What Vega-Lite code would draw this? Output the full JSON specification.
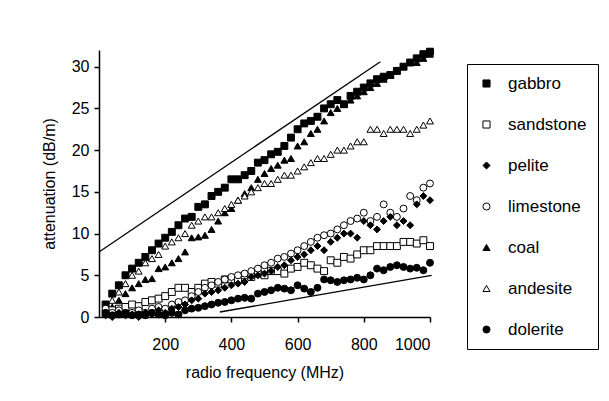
{
"$schema": "https://vega.github.io/schema/vega-lite/v6.json",
"width": 331, "height": 267,
"autosize": {"type": "none"},
"padding": {"left": 99, "top": 50, "right": 179, "bottom": 84},
"background": "white",
"config": {
  "view": {"stroke": null},
  "font": "Liberation Sans",
  "axis": {"grid": false, "domainColor": "black", "domainWidth": 1.5, "tickColor": "black", "tickWidth": 1.5, "tickSize": 5, "labelColor": "black", "titleColor": "black", "labelFontSize": 16, "titleFontSize": 16, "labelFontWeight": "normal", "titleFontWeight": "normal"},
  "legend": {"orient": "none", "legendX": 368, "legendY": 14, "strokeColor": "black", "fillColor": "white", "padding": 11, "rowPadding": 23, "labelFontSize": 17, "labelColor": "black", "labelOffset": 13, "symbolSize": 50, "symbolStrokeWidth": 1}
},
"datasets": {
"lines": [{"x1": 0, "y1": 7.8, "x2": 850, "y2": 30.6}, {"x1": 365, "y1": 0.6, "x2": 1005, "y2": 5.0}],
"pts": [
{"f":20,"r":"gabbro","a":1.5},{"f":40,"r":"gabbro","a":2.8},{"f":60,"r":"gabbro","a":3.8},{"f":80,"r":"gabbro","a":5.0},{"f":100,"r":"gabbro","a":5.8},{"f":120,"r":"gabbro","a":6.5},{"f":140,"r":"gabbro","a":7.2},{"f":160,"r":"gabbro","a":8.0},{"f":180,"r":"gabbro","a":8.8},{"f":200,"r":"gabbro","a":9.5},
{"f":220,"r":"gabbro","a":10.2},{"f":240,"r":"gabbro","a":11.0},{"f":260,"r":"gabbro","a":11.8},{"f":280,"r":"gabbro","a":12.0},{"f":300,"r":"gabbro","a":13.2},{"f":320,"r":"gabbro","a":13.5},{"f":340,"r":"gabbro","a":14.5},{"f":360,"r":"gabbro","a":15.0},{"f":380,"r":"gabbro","a":15.5},{"f":400,"r":"gabbro","a":16.5},
{"f":420,"r":"gabbro","a":16.5},{"f":440,"r":"gabbro","a":17.0},{"f":460,"r":"gabbro","a":17.5},{"f":480,"r":"gabbro","a":18.5},{"f":500,"r":"gabbro","a":18.8},{"f":520,"r":"gabbro","a":19.5},{"f":540,"r":"gabbro","a":19.8},{"f":560,"r":"gabbro","a":20.5},{"f":580,"r":"gabbro","a":21.5},{"f":600,"r":"gabbro","a":22.5},
{"f":620,"r":"gabbro","a":23.2},{"f":640,"r":"gabbro","a":23.5},{"f":660,"r":"gabbro","a":24.0},{"f":680,"r":"gabbro","a":25.0},{"f":700,"r":"gabbro","a":25.5},{"f":720,"r":"gabbro","a":26.0},{"f":740,"r":"gabbro","a":25.5},{"f":760,"r":"gabbro","a":26.5},{"f":780,"r":"gabbro","a":27.0},{"f":800,"r":"gabbro","a":27.5},
{"f":820,"r":"gabbro","a":28.0},{"f":840,"r":"gabbro","a":28.5},{"f":860,"r":"gabbro","a":28.8},{"f":880,"r":"gabbro","a":29.0},{"f":900,"r":"gabbro","a":29.5},{"f":920,"r":"gabbro","a":30.0},{"f":940,"r":"gabbro","a":30.5},{"f":960,"r":"gabbro","a":31.0},{"f":980,"r":"gabbro","a":31.5},{"f":1000,"r":"gabbro","a":31.8},
{"f":20,"r":"coal","a":0.5},{"f":40,"r":"coal","a":1.2},{"f":60,"r":"coal","a":2.0},{"f":80,"r":"coal","a":2.8},{"f":100,"r":"coal","a":3.5},{"f":120,"r":"coal","a":4.0},{"f":140,"r":"coal","a":4.5},{"f":160,"r":"coal","a":4.6},{"f":180,"r":"coal","a":5.8},{"f":200,"r":"coal","a":6.0},
{"f":220,"r":"coal","a":6.5},{"f":240,"r":"coal","a":7.0},{"f":260,"r":"coal","a":7.8},{"f":280,"r":"coal","a":9.5},{"f":300,"r":"coal","a":9.6},{"f":320,"r":"coal","a":9.8},{"f":340,"r":"coal","a":10.5},{"f":360,"r":"coal","a":11.5},{"f":380,"r":"coal","a":12.5},{"f":400,"r":"coal","a":13.0},
{"f":420,"r":"coal","a":14.0},{"f":440,"r":"coal","a":14.8},{"f":460,"r":"coal","a":15.5},{"f":480,"r":"coal","a":16.5},{"f":500,"r":"coal","a":17.2},{"f":520,"r":"coal","a":17.8},{"f":540,"r":"coal","a":18.2},{"f":560,"r":"coal","a":18.8},{"f":580,"r":"coal","a":19.0},{"f":600,"r":"coal","a":20.5},
{"f":620,"r":"coal","a":21.0},{"f":640,"r":"coal","a":22.0},{"f":660,"r":"coal","a":22.5},{"f":680,"r":"coal","a":23.5},{"f":700,"r":"coal","a":24.5},{"f":720,"r":"coal","a":25.0},{"f":740,"r":"coal","a":25.5},{"f":760,"r":"coal","a":26.0},{"f":780,"r":"coal","a":26.5},{"f":800,"r":"coal","a":27.0},
{"f":820,"r":"coal","a":27.5},{"f":840,"r":"coal","a":28.0},{"f":860,"r":"coal","a":28.5},{"f":880,"r":"coal","a":29.0},{"f":900,"r":"coal","a":29.5},{"f":920,"r":"coal","a":30.0},{"f":940,"r":"coal","a":30.5},{"f":960,"r":"coal","a":30.5},{"f":980,"r":"coal","a":31.0},{"f":1000,"r":"coal","a":31.5},
{"f":20,"r":"andesite","a":1.0},{"f":40,"r":"andesite","a":2.0},{"f":60,"r":"andesite","a":3.0},{"f":80,"r":"andesite","a":4.0},{"f":100,"r":"andesite","a":5.0},{"f":120,"r":"andesite","a":5.5},{"f":140,"r":"andesite","a":6.5},{"f":160,"r":"andesite","a":7.0},{"f":180,"r":"andesite","a":7.5},{"f":200,"r":"andesite","a":8.5},
{"f":220,"r":"andesite","a":9.0},{"f":240,"r":"andesite","a":9.5},{"f":260,"r":"andesite","a":10.0},{"f":280,"r":"andesite","a":11.0},{"f":300,"r":"andesite","a":11.5},{"f":320,"r":"andesite","a":12.0},{"f":340,"r":"andesite","a":12.0},{"f":360,"r":"andesite","a":12.5},{"f":380,"r":"andesite","a":13.0},{"f":400,"r":"andesite","a":13.5},
{"f":420,"r":"andesite","a":14.0},{"f":440,"r":"andesite","a":14.5},{"f":460,"r":"andesite","a":15.0},{"f":480,"r":"andesite","a":15.5},{"f":500,"r":"andesite","a":16.0},{"f":520,"r":"andesite","a":16.0},{"f":540,"r":"andesite","a":16.5},{"f":560,"r":"andesite","a":17.0},{"f":580,"r":"andesite","a":17.0},{"f":600,"r":"andesite","a":17.5},
{"f":620,"r":"andesite","a":18.0},{"f":640,"r":"andesite","a":18.5},{"f":660,"r":"andesite","a":19.0},{"f":680,"r":"andesite","a":19.0},{"f":700,"r":"andesite","a":19.5},{"f":720,"r":"andesite","a":20.0},{"f":740,"r":"andesite","a":20.0},{"f":760,"r":"andesite","a":20.5},{"f":780,"r":"andesite","a":21.0},{"f":800,"r":"andesite","a":21.0},
{"f":820,"r":"andesite","a":22.5},{"f":840,"r":"andesite","a":22.5},{"f":860,"r":"andesite","a":22.0},{"f":880,"r":"andesite","a":22.5},{"f":900,"r":"andesite","a":22.5},{"f":920,"r":"andesite","a":22.5},{"f":940,"r":"andesite","a":22.0},{"f":960,"r":"andesite","a":22.5},{"f":980,"r":"andesite","a":23.0},{"f":1000,"r":"andesite","a":23.5},
{"f":20,"r":"sandstone","a":0.5},{"f":40,"r":"sandstone","a":0.8},{"f":60,"r":"sandstone","a":1.0},{"f":80,"r":"sandstone","a":1.2},{"f":100,"r":"sandstone","a":1.5},{"f":120,"r":"sandstone","a":1.3},{"f":140,"r":"sandstone","a":1.8},{"f":160,"r":"sandstone","a":2.0},{"f":180,"r":"sandstone","a":2.2},{"f":200,"r":"sandstone","a":2.5},
{"f":220,"r":"sandstone","a":3.0},{"f":240,"r":"sandstone","a":3.5},{"f":260,"r":"sandstone","a":3.5},{"f":280,"r":"sandstone","a":3.0},{"f":300,"r":"sandstone","a":3.5},{"f":320,"r":"sandstone","a":4.0},{"f":340,"r":"sandstone","a":4.2},{"f":360,"r":"sandstone","a":4.0},{"f":380,"r":"sandstone","a":4.5},{"f":400,"r":"sandstone","a":4.5},
{"f":420,"r":"sandstone","a":4.5},{"f":440,"r":"sandstone","a":5.0},{"f":460,"r":"sandstone","a":4.8},{"f":480,"r":"sandstone","a":5.2},{"f":500,"r":"sandstone","a":5.0},{"f":520,"r":"sandstone","a":5.5},{"f":540,"r":"sandstone","a":5.5},{"f":560,"r":"sandstone","a":5.2},{"f":580,"r":"sandstone","a":5.8},{"f":600,"r":"sandstone","a":6.0},
{"f":620,"r":"sandstone","a":6.5},{"f":640,"r":"sandstone","a":6.2},{"f":660,"r":"sandstone","a":5.8},{"f":680,"r":"sandstone","a":5.5},{"f":700,"r":"sandstone","a":6.8},{"f":720,"r":"sandstone","a":6.5},{"f":740,"r":"sandstone","a":7.2},{"f":760,"r":"sandstone","a":7.0},{"f":780,"r":"sandstone","a":7.5},{"f":800,"r":"sandstone","a":8.0},
{"f":820,"r":"sandstone","a":8.0},{"f":840,"r":"sandstone","a":8.5},{"f":860,"r":"sandstone","a":8.5},{"f":880,"r":"sandstone","a":8.5},{"f":900,"r":"sandstone","a":8.5},{"f":920,"r":"sandstone","a":9.0},{"f":940,"r":"sandstone","a":9.0},{"f":960,"r":"sandstone","a":8.8},{"f":980,"r":"sandstone","a":9.2},{"f":1000,"r":"sandstone","a":8.5},
{"f":20,"r":"limestone","a":1.0},{"f":40,"r":"limestone","a":0.5},{"f":60,"r":"limestone","a":0.8},{"f":80,"r":"limestone","a":0.3},{"f":100,"r":"limestone","a":0.5},{"f":120,"r":"limestone","a":0.8},{"f":140,"r":"limestone","a":0.5},{"f":160,"r":"limestone","a":1.0},{"f":180,"r":"limestone","a":1.2},{"f":200,"r":"limestone","a":1.0},
{"f":220,"r":"limestone","a":1.5},{"f":240,"r":"limestone","a":1.8},{"f":260,"r":"limestone","a":2.0},{"f":280,"r":"limestone","a":2.5},{"f":300,"r":"limestone","a":3.0},{"f":320,"r":"limestone","a":3.5},{"f":340,"r":"limestone","a":3.8},{"f":360,"r":"limestone","a":4.2},{"f":380,"r":"limestone","a":4.5},{"f":400,"r":"limestone","a":4.8},
{"f":420,"r":"limestone","a":5.0},{"f":440,"r":"limestone","a":5.2},{"f":460,"r":"limestone","a":5.5},{"f":480,"r":"limestone","a":5.8},{"f":500,"r":"limestone","a":6.2},{"f":520,"r":"limestone","a":6.5},{"f":540,"r":"limestone","a":7.0},{"f":560,"r":"limestone","a":7.2},{"f":580,"r":"limestone","a":7.6},{"f":600,"r":"limestone","a":8.0},
{"f":620,"r":"limestone","a":8.5},{"f":640,"r":"limestone","a":9.0},{"f":660,"r":"limestone","a":9.5},{"f":680,"r":"limestone","a":9.8},{"f":700,"r":"limestone","a":10.0},{"f":720,"r":"limestone","a":10.5},{"f":740,"r":"limestone","a":11.0},{"f":760,"r":"limestone","a":11.5},{"f":780,"r":"limestone","a":11.8},{"f":800,"r":"limestone","a":12.5},
{"f":820,"r":"limestone","a":11.5},{"f":840,"r":"limestone","a":12.0},{"f":860,"r":"limestone","a":13.5},{"f":880,"r":"limestone","a":12.5},{"f":900,"r":"limestone","a":12.0},{"f":920,"r":"limestone","a":13.0},{"f":940,"r":"limestone","a":14.5},{"f":960,"r":"limestone","a":14.0},{"f":980,"r":"limestone","a":15.5},{"f":1000,"r":"limestone","a":16.0},
{"f":20,"r":"pelite","a":0.2},{"f":40,"r":"pelite","a":0.0},{"f":60,"r":"pelite","a":0.5},{"f":80,"r":"pelite","a":0.2},{"f":100,"r":"pelite","a":0.3},{"f":120,"r":"pelite","a":0.0},{"f":140,"r":"pelite","a":0.5},{"f":160,"r":"pelite","a":0.3},{"f":180,"r":"pelite","a":0.8},{"f":200,"r":"pelite","a":0.5},
{"f":220,"r":"pelite","a":1.0},{"f":240,"r":"pelite","a":1.2},{"f":260,"r":"pelite","a":1.5},{"f":280,"r":"pelite","a":2.0},{"f":300,"r":"pelite","a":2.2},{"f":320,"r":"pelite","a":2.8},{"f":340,"r":"pelite","a":3.0},{"f":360,"r":"pelite","a":3.2},{"f":380,"r":"pelite","a":3.5},{"f":400,"r":"pelite","a":3.8},
{"f":420,"r":"pelite","a":4.0},{"f":440,"r":"pelite","a":4.2},{"f":460,"r":"pelite","a":4.8},{"f":480,"r":"pelite","a":5.0},{"f":500,"r":"pelite","a":5.2},{"f":520,"r":"pelite","a":5.5},{"f":540,"r":"pelite","a":6.0},{"f":560,"r":"pelite","a":6.2},{"f":580,"r":"pelite","a":6.8},{"f":600,"r":"pelite","a":7.2},
{"f":620,"r":"pelite","a":7.5},{"f":640,"r":"pelite","a":8.0},{"f":660,"r":"pelite","a":8.5},{"f":680,"r":"pelite","a":8.0},{"f":700,"r":"pelite","a":9.0},{"f":720,"r":"pelite","a":9.5},{"f":740,"r":"pelite","a":10.0},{"f":760,"r":"pelite","a":10.0},{"f":780,"r":"pelite","a":9.5},{"f":800,"r":"pelite","a":11.5},
{"f":820,"r":"pelite","a":11.0},{"f":840,"r":"pelite","a":10.5},{"f":860,"r":"pelite","a":11.5},{"f":880,"r":"pelite","a":12.0},{"f":900,"r":"pelite","a":11.0},{"f":920,"r":"pelite","a":11.5},{"f":940,"r":"pelite","a":11.0},{"f":960,"r":"pelite","a":13.5},{"f":980,"r":"pelite","a":14.5},{"f":1000,"r":"pelite","a":14.0},
{"f":20,"r":"dolerite","a":0.5},{"f":40,"r":"dolerite","a":0.2},{"f":60,"r":"dolerite","a":0.3},{"f":80,"r":"dolerite","a":0.5},{"f":100,"r":"dolerite","a":0.2},{"f":120,"r":"dolerite","a":0.3},{"f":140,"r":"dolerite","a":0.2},{"f":160,"r":"dolerite","a":0.5},{"f":180,"r":"dolerite","a":0.3},{"f":200,"r":"dolerite","a":0.2},
{"f":220,"r":"dolerite","a":0.5},{"f":240,"r":"dolerite","a":0.3},{"f":260,"r":"dolerite","a":0.8},{"f":280,"r":"dolerite","a":1.0},{"f":300,"r":"dolerite","a":1.1},{"f":320,"r":"dolerite","a":1.3},{"f":340,"r":"dolerite","a":1.5},{"f":360,"r":"dolerite","a":1.7},{"f":380,"r":"dolerite","a":1.8},{"f":400,"r":"dolerite","a":2.0},
{"f":420,"r":"dolerite","a":2.2},{"f":440,"r":"dolerite","a":2.3},{"f":460,"r":"dolerite","a":2.2},{"f":480,"r":"dolerite","a":2.8},{"f":500,"r":"dolerite","a":3.0},{"f":520,"r":"dolerite","a":3.2},{"f":540,"r":"dolerite","a":3.5},{"f":560,"r":"dolerite","a":3.4},{"f":580,"r":"dolerite","a":3.2},{"f":600,"r":"dolerite","a":3.8},
{"f":620,"r":"dolerite","a":3.4},{"f":640,"r":"dolerite","a":3.0},{"f":660,"r":"dolerite","a":3.5},{"f":680,"r":"dolerite","a":4.5},{"f":700,"r":"dolerite","a":4.4},{"f":720,"r":"dolerite","a":4.2},{"f":740,"r":"dolerite","a":4.4},{"f":760,"r":"dolerite","a":4.5},{"f":780,"r":"dolerite","a":4.7},{"f":800,"r":"dolerite","a":4.5},
{"f":820,"r":"dolerite","a":5.0},{"f":840,"r":"dolerite","a":5.8},{"f":860,"r":"dolerite","a":5.6},{"f":880,"r":"dolerite","a":6.0},{"f":900,"r":"dolerite","a":6.2},{"f":920,"r":"dolerite","a":6.0},{"f":940,"r":"dolerite","a":5.8},{"f":960,"r":"dolerite","a":5.9},{"f":980,"r":"dolerite","a":5.6},{"f":1000,"r":"dolerite","a":6.5}
]
},
"layer": [
{
  "data": {"name": "lines"},
  "mark": {"type": "rule", "stroke": "black", "strokeWidth": 1.3},
  "encoding": {
    "x": {"field": "x1", "type": "quantitative", "scale": {"domain": [0, 1000], "nice": false, "zero": false}, "axis": {"values": [200, 400, 600, 800, 1000], "format": "d", "title": "radio frequency (MHz)", "labelPadding": 14, "titlePadding": 12, "labelFontSize": 16, "titleFontSize": 16}},
    "y": {"field": "y1", "type": "quantitative", "scale": {"domain": [0, 32], "nice": false}, "axis": {"values": [0, 5, 10, 15, 20, 25, 30], "format": "d", "title": "attenuation (dB/m)", "labelPadding": 5, "titlePadding": 14, "labelFontSize": 16, "titleFontSize": 16}},
    "x2": {"field": "x2"},
    "y2": {"field": "y2"}
  }
},
{
  "data": {"name": "pts"},
  "mark": {"type": "point", "filled": true, "strokeWidth": 1, "size": 48, "opacity": 1},
  "encoding": {
    "x": {"field": "f", "type": "quantitative", "title": "radio frequency (MHz)"},
    "y": {"field": "a", "type": "quantitative", "title": "attenuation (dB/m)"},
    "shape": {"field": "r", "type": "nominal", "title": null,
      "scale": {"domain": ["gabbro", "sandstone", "pelite", "limestone", "coal", "andesite", "dolerite"], "range": ["square", "square", "diamond", "circle", "triangle-up", "triangle-up", "circle"]}},
    "fill": {"field": "r", "type": "nominal", "title": null,
      "scale": {"domain": ["gabbro", "sandstone", "pelite", "limestone", "coal", "andesite", "dolerite"], "range": ["black", "white", "black", "white", "black", "white", "black"]}},
    "stroke": {"field": "r", "type": "nominal", "title": null,
      "scale": {"domain": ["gabbro", "sandstone", "pelite", "limestone", "coal", "andesite", "dolerite"], "range": ["black", "black", "black", "black", "black", "black", "black"]}}
  }
}
]
}
